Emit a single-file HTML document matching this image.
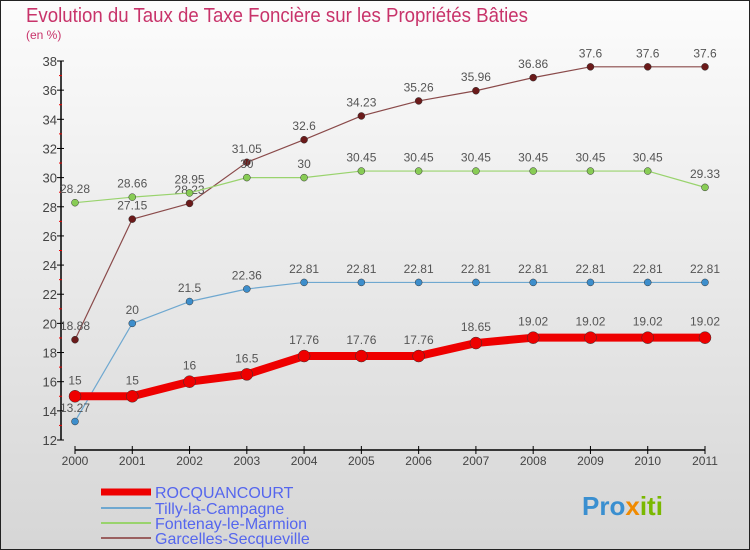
<!DOCTYPE html>
<html><head><meta charset="utf-8"><style>
body{margin:0}
svg{display:block;font-family:"Liberation Sans",sans-serif}
</style></head><body>
<svg width="750" height="550" viewBox="0 0 750 550" id="c">
<defs><linearGradient id="bg" x1="0" y1="0" x2="0" y2="1"><stop offset="0" stop-color="#fcfcfc"/><stop offset="1" stop-color="#d6d6d6"/></linearGradient></defs>
<rect x="0.5" y="0.5" width="749" height="549" fill="url(#bg)" stroke="#222"/>
<text x="26" y="22" font-size="20" fill="#c8336a" textLength="502" lengthAdjust="spacingAndGlyphs">Evolution du Taux de Taxe Foncière sur les Propriétés Bâties</text>
<text x="26" y="39" font-size="12" fill="#c8336a">(en %)</text>
<g id="axes"></g><g id="series"></g>
<g>
<line x1="101" y1="492" x2="151" y2="492" stroke="#e00" stroke-width="7"/>
<text x="155" y="498" font-size="16" fill="#5566ee">ROCQUANCOURT</text>
<line x1="101" y1="508" x2="151" y2="508" stroke="#6fa8d0" stroke-width="2"/>
<text x="155" y="514" font-size="16" fill="#5566ee">Tilly-la-Campagne</text>
<line x1="101" y1="523" x2="151" y2="523" stroke="#99d36d" stroke-width="2"/>
<text x="155" y="529" font-size="16" fill="#5566ee">Fontenay-le-Marmion</text>
<line x1="101" y1="538" x2="151" y2="538" stroke="#9a6060" stroke-width="2"/>
<text x="155" y="544" font-size="16" fill="#5566ee">Garcelles-Secqueville</text>
</g>
<text x="582" y="515" font-size="26" font-weight="bold" fill="#3a8fd0">Pro<tspan fill="#f08a00">x</tspan><tspan fill="#7ab800">iti</tspan></text>
</svg>
<script>
const years=[2000,2001,2002,2003,2004,2005,2006,2007,2008,2009,2010,2011];
const yTicks=[12,14,16,18,20,22,24,26,28,30,32,34,36,38];
const rocq=[15,15,16,16.5,17.76,17.76,17.76,18.65,19.02,19.02,19.02,19.02];
const rocqLbl=["15","15","16","16.5","17.76","17.76","17.76","18.65","19.02","19.02","19.02","19.02"];
const tilly=[13.27,20,21.5,22.36,22.81,22.81,22.81,22.81,22.81,22.81,22.81,22.81];
const tillyLbl=["13.27","20","21.5","22.36","22.81","22.81","22.81","22.81","22.81","22.81","22.81","22.81"];
const font=[28.28,28.66,28.95,30,30,30.45,30.45,30.45,30.45,30.45,30.45,29.33];
const fontLbl=["28.28","28.66","28.95","30","30","30.45","30.45","30.45","30.45","30.45","30.45","29.33"];
const garc=[18.88,27.15,28.23,31.05,32.6,34.23,35.26,35.96,36.86,37.6,37.6,37.6];
const garcLbl=["18.88","27.15","28.23","31.05","32.6","34.23","35.26","35.96","36.86","37.6","37.6","37.6"];
const NS="http://www.w3.org/2000/svg";
const X=i=>75+i*(630/11);
const Y=v=>440-(v-12)*(379/26);
function mk(p,t,a){const e=document.createElementNS(NS,t);for(const k in a)e.setAttribute(k,a[k]);p.appendChild(e);return e;}
const ax=document.getElementById('axes');
let e=mk(ax,'line',{x1:61,y1:Y(38),x2:61,y2:Y(12),stroke:'#000','stroke-width':1.5});

e=mk(ax,'line',{x1:X(0),y1:450,x2:X(11),y2:450,stroke:'#000','stroke-width':1.5});

yTicks.forEach(v=>{
 mk(ax,'line',{x1:57,y1:Y(v),x2:64,y2:Y(v),stroke:'#000'});
 if(v<38) mk(ax,'line',{x1:59,y1:Y(v+1),x2:62,y2:Y(v+1),stroke:'#e00'});
 const t=mk(ax,'text',{x:57,y:Y(v)+5,'text-anchor':'end','font-size':13,fill:'#444'});t.textContent=v;
 
});
years.forEach((y,i)=>{
 mk(ax,'line',{x1:X(i),y1:446,x2:X(i),y2:454,stroke:'#000'});
 const t=mk(ax,'text',{x:X(i),y:465,'text-anchor':'middle','font-size':12,fill:'#444'});t.textContent=y;
 
});
const sg=document.getElementById('series');
function series(name,vals,lbls,col,w,r,dot){
 const g=mk(sg,'g',{});
 const l=mk(g,'polyline',{points:vals.map((v,i)=>X(i)+','+Y(v)).join(' '),fill:'none',stroke:col,'stroke-width':w,'stroke-linejoin':'round'});
 
 vals.forEach((v,i)=>{
  const c=mk(g,'circle',{cx:X(i),cy:Y(v),r:r,fill:dot,stroke:'#333','stroke-width':0.5});
  
  const t=mk(g,'text',{x:X(i),y:Y(v)-(r+6),'text-anchor':'middle','font-size':12,fill:'#555'});t.textContent=lbls[i];
  
 });
}
series('garcelles',garc,garcLbl,'#8a4a4a',1.2,3.5,'#6b1a1a');
series('fontenay',font,fontLbl,'#99d36d',1.2,3.5,'#88cc55');
series('tilly',tilly,tillyLbl,'#6fa8d0',1.2,3.5,'#3d8ecc');
series('rocquancourt',rocq,rocqLbl,'#e00',8,6,'#e00');
</script>
</body></html>
